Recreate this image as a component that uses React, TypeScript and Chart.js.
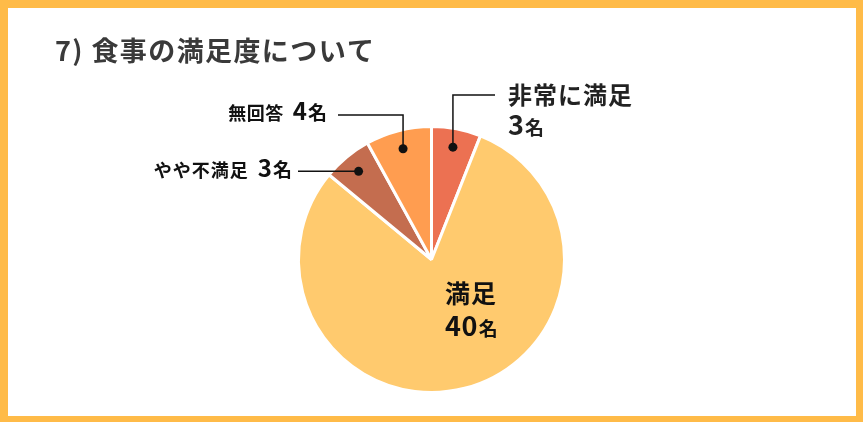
import React, { useEffect, useRef } from "react";
import { Chart, registerables } from "chart.js";

Chart.register(...registerables);

const title = "7) 食事の満足度について";
const categories = ["非常に満足", "満足", "やや不満足", "無回答"];
const counts = [3, 40, 3, 4];
const unit = "名";
const sliceColors = ["#EC7152", "#FFCA6E", "#C46D4F", "#FF9D50"];
const frameColor = "#FFBB48";
const FONT = "'Noto Sans CJK JP', 'Noto Sans', sans-serif";

type Run = { text: string; size: number; spacing?: number; gap?: number };

function drawRuns(ctx: CanvasRenderingContext2D, runs: Run[], x: number, y: number, align: "left" | "right", color: string) {
  ctx.save();
  ctx.fillStyle = color;
  ctx.textBaseline = "alphabetic";
  ctx.textAlign = "left";
  const setFont = (r: Run) => {
    ctx.font = `bold ${r.size}px ${FONT}`;
    (ctx as any).letterSpacing = `${r.spacing || 0}px`;
  };
  const widths = runs.map((r) => {
    setFont(r);
    return ctx.measureText(r.text).width + (r.gap || 0);
  });
  const total = widths.reduce((a, b) => a + b, 0);
  let cx = align === "left" ? x : x - total;
  runs.forEach((r, i) => {
    setFont(r);
    ctx.fillText(r.text, cx, y);
    cx += widths[i];
  });
  ctx.restore();
}

const overlay = {
  id: "overlay",
  beforeDraw(chart: any) {
    const { ctx, width, height } = chart;
    ctx.save();
    ctx.fillStyle = "#ffffff";
    ctx.fillRect(0, 0, width, height);
    ctx.fillStyle = frameColor;
    ctx.fillRect(0, 0, width, 8);
    ctx.fillRect(0, 0, 8, height);
    ctx.fillRect(width - 7, 0, 7, height);
    ctx.fillRect(0, height - 6, width, 6);
    ctx.restore();
    drawRuns(ctx, [{ text: title, size: 27, spacing: 1.4 }], 55, 61, "left", "#3a3a3a");
  },
  afterDraw(chart: any) {
    const { ctx } = chart;
    const arcs = chart.getDatasetMeta(0).data;
    const dot = (i: number) => {
      const a = arcs[i];
      const mid = (a.startAngle + a.endAngle) / 2;
      const r = a.outerRadius * 0.86;
      return { x: a.x + Math.cos(mid) * r, y: a.y + Math.sin(mid) * r };
    };
    const ink = "#111111";
    ctx.save();
    ctx.strokeStyle = ink;
    ctx.lineWidth = 1.5;
    ctx.fillStyle = ink;

    // 非常に満足 (index 0)
    const d0 = dot(0);
    ctx.beginPath();
    ctx.moveTo(d0.x, d0.y);
    ctx.lineTo(d0.x, 95);
    ctx.lineTo(495, 95);
    ctx.stroke();
    // やや不満足 (index 2)
    const d2 = dot(2);
    ctx.beginPath();
    ctx.moveTo(d2.x, d2.y);
    ctx.lineTo(298, d2.y);
    ctx.stroke();
    // 無回答 (index 3)
    const d3 = dot(3);
    ctx.beginPath();
    ctx.moveTo(d3.x, d3.y);
    ctx.lineTo(d3.x, 115);
    ctx.lineTo(338, 115);
    ctx.stroke();

    [d0, d2, d3].forEach((d) => {
      ctx.beginPath();
      ctx.arc(d.x, d.y, 4.5, 0, Math.PI * 2);
      ctx.fill();
    });
    ctx.restore();

    drawRuns(ctx, [{ text: categories[0], size: 24, spacing: 1 }], 508, 104, "left", "#222");
    drawRuns(ctx, [{ text: String(counts[0]), size: 27, gap: 1 }, { text: unit, size: 19 }], 508, 135, "left", "#222");

    drawRuns(ctx, [{ text: categories[3], size: 18, spacing: 0.5, gap: 9 }, { text: String(counts[3]), size: 24, gap: 1 }, { text: unit, size: 19 }], 327, 120, "right", "#111");
    drawRuns(ctx, [{ text: categories[2], size: 18, spacing: 1, gap: 9 }, { text: String(counts[2]), size: 24, gap: 1 }, { text: unit, size: 19 }], 292, 177, "right", "#111");

    drawRuns(ctx, [{ text: categories[1], size: 25, spacing: 1 }], 445, 303, "left", "#111");
    drawRuns(ctx, [{ text: String(counts[1]), size: 27, spacing: 0.5, gap: 1 }, { text: unit, size: 19 }], 445, 336, "left", "#111");
  },
};

export default function App() {
  const ref = useRef<HTMLCanvasElement | null>(null);
  useEffect(() => {
    document.body.style.margin = "0";
    const chart = new Chart(ref.current as HTMLCanvasElement, {
      type: "pie",
      data: {
        labels: categories,
        datasets: [
          {
            data: counts,
            backgroundColor: sliceColors,
            borderColor: "#ffffff",
            borderWidth: 3,
            hoverOffset: 0,
          },
        ],
      },
      options: {
        responsive: false,
        animation: false,
        events: [],
        layout: { padding: { top: 125, bottom: 28, left: 0, right: 0 } },
        plugins: {
          legend: { display: false },
          tooltip: { enabled: false },
          title: { display: false },
        },
      },
      plugins: [overlay],
    });
    return () => chart.destroy();
  }, []);
  return (
    <div style={{ position: "fixed", left: 0, top: 0, width: 863, height: 422 }}>
      <canvas ref={ref} width={863} height={422} />
    </div>
  );
}
